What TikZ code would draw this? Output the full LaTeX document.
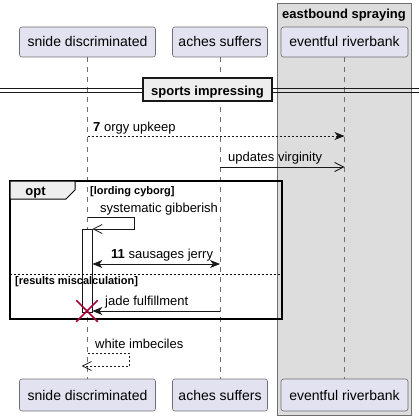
\documentclass[tikz,border=0pt]{standalone}
\usepackage{fontspec}
\setmainfont{Liberation Sans}
\usetikzlibrary{arrows.meta,shapes.misc}
\definecolor{partfill}{RGB}{226,226,240}
\definecolor{boxfill}{RGB}{221,221,221}
\definecolor{groupfill}{RGB}{238,238,238}
\definecolor{linecol}{RGB}{24,24,24}
\definecolor{boxline}{RGB}{110,110,110}
\definecolor{killred}{RGB}{168,0,54}
\tikzset{
  actor/.style = {draw=boxline, fill=partfill, rounded corners=2.5pt, line width=0.6pt,
    inner sep=0pt, minimum height=30pt, text height=10pt, text depth=0pt,
    font=\fontsize{14}{16}\selectfont},
  lifeline/.style = {draw=boxline, line width=0.6pt, dash pattern=on 5pt off 5pt},
  msglabel/.style = {inner sep=0pt, anchor=base west, font=\fontsize{13}{15}\selectfont},
  grouplabel/.style = {inner sep=0pt, anchor=base west, font=\fontsize{11}{13}\selectfont\bfseries},
  filled/.style = {draw=linecol, line width=0.8pt, -{Stealth[length=10pt,width=8pt,inset=3pt]}},
  open/.style = {draw=linecol, line width=0.8pt, -{Straight Barb[length=9pt,width=9pt]}},
  reply/.style = {dash pattern=on 2pt off 2pt},
}

\begin{document}
\begin{tikzpicture}[x=1pt,y=-1pt]
\useasboundingbox (0,0) rectangle (419,420);
\draw[draw=boxline, fill=boxfill, line width=0.8pt] (277,3) rectangle (411,415);
\node[inner sep=0pt, anchor=base, font=\fontsize{13}{15}\selectfont\bfseries] (boxtitle) at (344,18.3) {eastbound spraying};

\node[actor, minimum width=136pt] (snide) at (87.5,42) {snide discriminated};
\node[actor, minimum width=95pt] (aches) at (220,42) {aches suffers};
\node[actor, minimum width=127pt] (event) at (344.5,42) {eventful riverbank};
\node[actor, minimum width=136pt, minimum height=32pt] (snide2) at (87.5,395) {snide discriminated};
\node[actor, minimum width=95pt, minimum height=32pt] (aches2) at (220,395) {aches suffers};
\node[actor, minimum width=127pt, minimum height=32pt] (event2) at (344.5,395) {eventful riverbank};
\draw[lifeline] (snide) -- (snide2);
\draw[lifeline] (aches) -- (aches2);
\draw[lifeline] (event) -- (event2);

\draw[linecol, line width=0.8pt] (0,88) -- (419,88) (0,92) -- (419,92);
\node[draw=linecol, fill=groupfill, line width=1.5pt, minimum width=129pt, minimum height=23pt,
  inner sep=0pt, text height=12.4pt, text depth=0pt, font=\fontsize{13}{15}\selectfont\bfseries]
  (divider) at (207.5,89.5) {sports impressing};

\draw[filled, reply] (snide |- 0,136) -- (event |- 0,136);
\node[msglabel] (msg7) at (93,131) {\textbf{7} orgy upkeep};
\draw[open] (aches |- 0,167) -- (event |- 0,167);
\node[msglabel] (msg8) at (228,161.5) {updates virginity};

\node[draw=linecol, fill=white, line width=0.8pt, minimum width=10pt, minimum height=83pt,
  inner sep=0pt] (act) at (87,270.5) {};
\draw[line width=1.5pt] (10,181) rectangle (282,319);
\draw[fill=groupfill, line width=1pt] (10,181) -- (75,181) -- (75,190) -- (66,199) -- (10,199) -- cycle;
\node[inner sep=0pt, anchor=base, font=\fontsize{13}{15}\selectfont\bfseries] (opt) at (35.5,195) {opt};
\node[grouplabel] (guard1) at (90,194) {[lording cyborg]};
\draw[dash pattern=on 2pt off 2pt, line width=0.8pt] (10,274) -- (282,274);
\node[grouplabel] (guard2) at (15,284.3) {[results miscalculation]};

\draw[open] (snide |- 0,217) -- (134,217) -- (134,229) -- (act.east |- 0,229);
\node[msglabel] (msg10) at (100,212) {systematic gibberish};
\draw[filled, {Stealth[length=10pt,width=8pt,inset=3pt]}-{Stealth[length=10pt,width=8pt,inset=3pt]}]
  (act.east |- 0,264) -- (aches |- 0,264);
\node[msglabel] (msg11) at (111,258.5) {\textbf{11} sausages jerry};
\draw[filled] (aches |- 0,311) -- (act.east |- 0,311);
\node[msglabel] (msg12) at (105,305.7) {jade fulfillment};
\node[cross out, draw=killred, line width=1.5pt, minimum size=20pt, inner sep=0pt] (kill) at (87,311) {};

\draw[open, reply] (snide |- 0,353) -- (129,353) -- (129,366) -- (act.west |- 0,366);
\node[msglabel] (msg13) at (95,348.3) {white imbeciles};
\end{tikzpicture}
\end{document}
